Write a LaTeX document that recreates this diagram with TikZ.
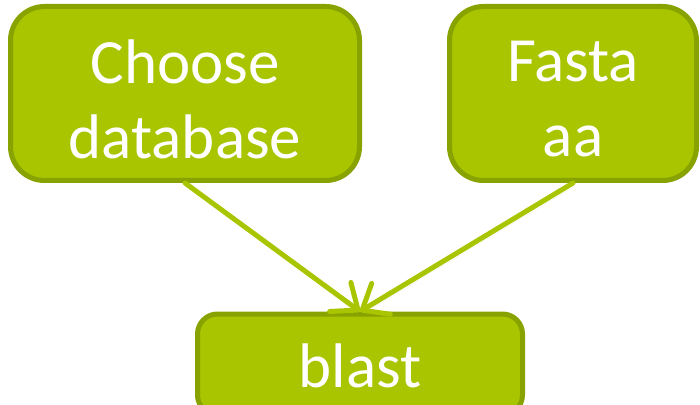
\documentclass[tikz,border=0pt]{standalone}
\usepackage{fontspec}
\setmainfont{Carlito}
\usetikzlibrary{arrows.meta,shadows}
\definecolor{boxfill}{RGB}{168,197,0}
\definecolor{boxline}{RGB}{136,162,0}
\tikzset{
  gbox/.style={draw=boxline, fill=boxfill, line width=5pt, rounded corners=34pt,
    inner sep=0pt,
    drop shadow={shadow xshift=1.5pt, shadow yshift=-2pt, opacity=0.25, fill=black}},
  gtext/.style={text=white, font=\fontsize{63}{75}\selectfont, align=center, inner sep=0pt},
  garrow/.style={draw=boxfill, line width=5pt, line cap=round,
    -{Straight Barb[length=22pt,width=36pt,line width=5pt,round]},
    drop shadow={shadow xshift=2pt, shadow yshift=-3pt, opacity=0.25}}
}
\begin{document}
\begin{tikzpicture}[x=1pt,y=1pt]
\useasboundingbox (0,0) rectangle (700,404);
\clip (0,0) rectangle (700,404);
\node[gbox, minimum width=349pt, minimum height=174pt] (cd) at (185,310.5) {};
\node[gbox, minimum width=247pt, minimum height=174pt] (fa) at (573,310.5) {};
\node[gbox, rounded corners=20pt, minimum width=325pt, minimum height=101pt] (bl) at (360,39.5) {};
\node[gtext] (cdt) at ([yshift=-6pt]cd.center) {Choose\\database};
\node[gtext] (fat) at ([yshift=-6pt]fa.center) {Fasta\\aa};
\node[gtext] (blt) at ([yshift=-1pt]bl.center) {blast};
\draw[garrow] (cd.south) -- (bl.north);
\draw[garrow] (fa.south) -- (bl.north);
\end{tikzpicture}
\end{document}
